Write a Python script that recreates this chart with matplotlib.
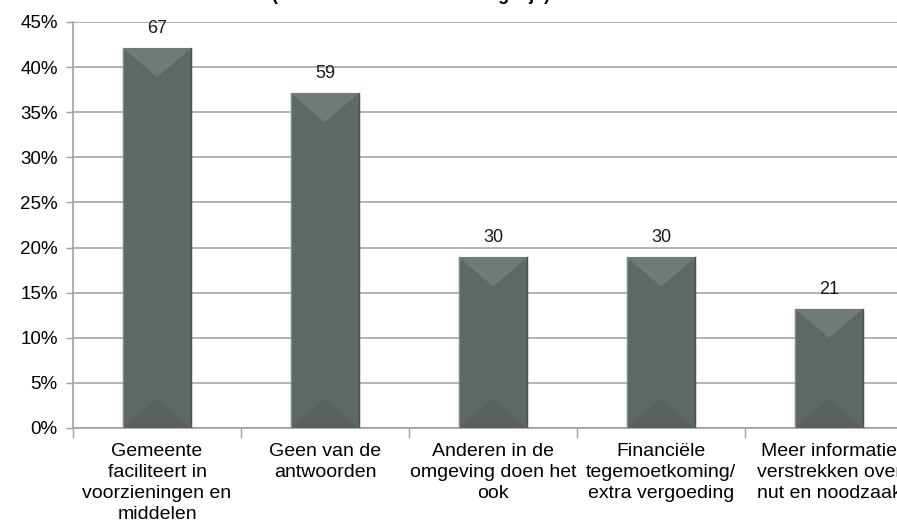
import matplotlib
matplotlib.use("Agg")
import matplotlib.pyplot as plt
from matplotlib.patches import Polygon
from matplotlib.ticker import FixedLocator, FuncFormatter

categories = [
    "Gemeente\nfaciliteert in\nvoorzieningen en\nmiddelen",
    "Geen van de\nantwoorden",
    "Anderen in de\nomgeving doen het\nook",
    "Financiële\ntegemoetkoming/\nextra vergoeding",
    "Meer informatie\nverstrekken over\nnut en noodzaak",
]
percentages = [42.1, 37.1, 18.9, 18.9, 13.2]
counts = [67, 59, 30, 30, 21]
y_ticks = [0, 5, 10, 15, 20, 25, 30, 35, 40, 45]
title = "(meerdere antwoorden mogelijk)"

plt.rcParams["font.family"] = ["Liberation Sans", "DejaVu Sans"]

W, H = 897, 528
fig = plt.figure(figsize=(W / 100, H / 100), dpi=100)
ax = fig.add_axes([73 / W, 100 / H, 840 / W, 406 / H])

bar_w = 0.405
x = list(range(len(categories)))
main_c = "#5e6867"
bars = ax.bar(x, percentages, width=bar_w, color=main_c,
              edgecolor="#75807f", linewidth=0.8, zorder=3)

ax.set_xlim(-0.5, len(categories) - 0.5)
ax.set_ylim(0, 45)

# bevel effect: lighter triangle at the top, darker at the bottom
px_per_unit = 406 / 45
depth = 29 / px_per_unit
for b in bars:
    x0 = b.get_x()
    x1 = x0 + b.get_width()
    xm = (x0 + x1) / 2
    top = b.get_height()
    d = min(depth, top / 2)
    ax.add_patch(Polygon([(x0, top), (x1, top), (xm, top - d)],
                         closed=True, color="#6f7a79", lw=0, zorder=4))
    ax.add_patch(Polygon([(x0, 0), (x1, 0), (xm, d)],
                         closed=True, color="#58615f", lw=0, zorder=4))
    ax.plot([x0, x0], [0, top], color="#7d8887", lw=1.0, zorder=5)
    ax.plot([x1, x1], [0, top], color="#4c5453", lw=1.0, zorder=5)

for b, c in zip(bars, counts):
    ax.annotate(str(c), xy=(b.get_x() + b.get_width() / 2, b.get_height()),
                xytext=(0, 8), textcoords="offset points",
                ha="center", va="bottom", fontsize=13, color="#1a1a1a")

ax.set_yticks(y_ticks)
ax.yaxis.set_major_formatter(FuncFormatter(lambda v, p: f"{int(v)}%"))
ax.grid(True, axis="y", color="#a6a6a6", linewidth=1.2, zorder=0)
ax.set_axisbelow(True)

ax.xaxis.set_major_locator(FixedLocator(x))
ax.set_xticklabels(categories, fontsize=14, linespacing=1.3)
ax.xaxis.set_minor_locator(FixedLocator([i - 0.5 for i in range(len(categories) + 1)]))
ax.tick_params(axis="x", which="major", length=0, pad=11)
ax.tick_params(axis="x", which="minor", length=7, color="#a0a0a0", width=1.0)
ax.tick_params(axis="y", length=5, color="#a0a0a0", width=1.0, pad=6,
               labelsize=13.5)

for s in ["top", "right"]:
    ax.spines[s].set_visible(False)
for s in ["left", "bottom"]:
    ax.spines[s].set_color("#a0a0a0")
    ax.spines[s].set_linewidth(1.2)

fig.text(411 / W, 1.0 + 0.5 / H, title, ha="center", va="baseline",
         fontsize=13, fontweight="bold")

fig.savefig("out.png", dpi=100)
